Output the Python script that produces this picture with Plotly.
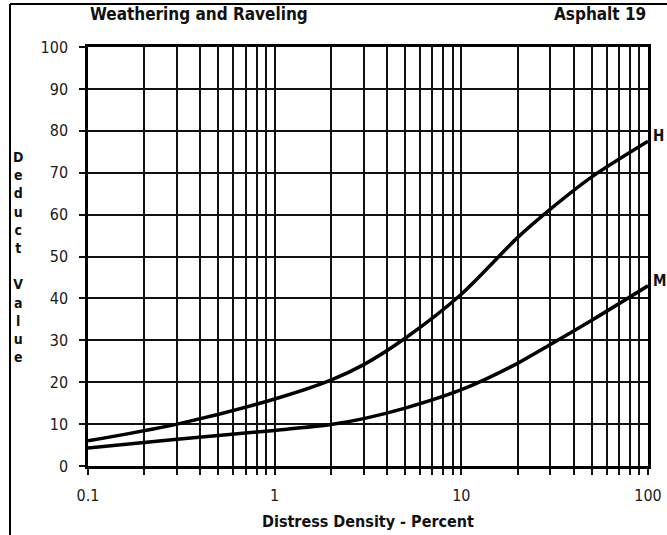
import plotly.graph_objects as go

# Deduct value curves: Weathering and Raveling (Asphalt 19)
density_h = [0.1, 0.3, 1, 2, 3, 5, 10, 20, 30, 50, 100]
deduct_h = [6.0, 10.0, 16.0, 20.5, 24.2, 30.5, 41.0, 54.5, 61.3, 69.0, 77.5]

density_m = [0.1, 0.3, 1, 2, 3, 5, 10, 20, 30, 50, 100]
deduct_m = [4.3, 6.4, 8.5, 9.9, 11.3, 13.8, 18.2, 24.5, 29.0, 34.8, 43.0]

curve_labels = ["H", "M"]

# log grid: every 1..9 in each decade, labels only at decades
decades = [0.1, 1, 10]
grid_x = [round(d * k, 3) for d in decades for k in range(1, 10)] + [100]
decade_text = {0.1: "0.1", 1: "1", 10: "10", 100: "100"}
grid_text = [decade_text.get(v, "") for v in grid_x]

y_ticks = list(range(0, 101, 10))

FONT = "Tahoma, 'DejaVu Sans Condensed', 'DejaVu Sans', sans-serif"

fig = go.Figure()
for xs, ys in [(density_h, deduct_h), (density_m, deduct_m)]:
    fig.add_trace(go.Scatter(x=xs, y=ys, mode="lines",
                             line=dict(color="black", width=3.5, shape="spline", smoothing=0.8),
                             showlegend=False, hoverinfo="skip"))

L, R, T, B = 88, 19, 47, 69
W, H = 667, 535
pw, ph = W - L - R, H - T - B

def px_to_paper_x(px):
    return (px - L) / pw

def px_to_paper_y(py):
    return (H - B - py) / ph

fig.update_layout(
    width=W, height=H,
    margin=dict(l=L, r=R, t=T, b=B, pad=0),
    paper_bgcolor="white", plot_bgcolor="white",
    font=dict(family=FONT, size=15, color="#1a1a1a"),
    xaxis=dict(
        type="log", range=[-1, 2], automargin=False,
        tickvals=grid_x, ticktext=grid_text,
        showgrid=True, gridcolor="#111", gridwidth=1.6,
        ticks="outside", ticklen=6, tickwidth=1.6, tickcolor="#111",
        showline=True, linecolor="black", linewidth=2.5, mirror=True,
        zeroline=False, ticklabelstandoff=7,
        tickfont=dict(size=16, family=FONT, color="#1a1a1a"),
    ),
    yaxis=dict(
        range=[0, 100], tickvals=y_ticks, automargin=False,
        showgrid=True, gridcolor="#111", gridwidth=1.6,
        ticks="outside", ticklen=6, tickwidth=1.6, tickcolor="#111",
        showline=True, linecolor="black", linewidth=2.5, mirror=True,
        zeroline=False, ticklabelstandoff=8,
        tickfont=dict(size=16, family=FONT, color="#1a1a1a"),
    ),
)

# outer frame (top and left edges)
fx = px_to_paper_x(10)
fy = px_to_paper_y(4)
fig.add_shape(type="line", xref="paper", yref="paper",
              x0=fx, x1=px_to_paper_x(667), y0=fy, y1=fy,
              line=dict(color="black", width=2))
fig.add_shape(type="line", xref="paper", yref="paper",
              x0=fx, x1=fx, y0=fy, y1=px_to_paper_y(540),
              line=dict(color="black", width=2))

# headings
fig.add_annotation(text="<b>Weathering and Raveling</b>", xref="paper", yref="paper",
                   x=0, y=px_to_paper_y(14), xanchor="left", yanchor="middle",
                   showarrow=False, font=dict(size=17, family=FONT, color="#111"))
fig.add_annotation(text="<b>Asphalt 19</b>", xref="paper", yref="paper",
                   x=1, y=px_to_paper_y(14), xanchor="right", yanchor="middle",
                   showarrow=False, font=dict(size=17, family=FONT, color="#111"))

# x-axis title
fig.add_annotation(text="<b>Distress Density - Percent</b>", xref="paper", yref="paper",
                   x=0.5, y=px_to_paper_y(521), xanchor="center", yanchor="middle",
                   showarrow=False, font=dict(size=16, family=FONT, color="#111"))

# vertical y-axis title, one letter per line
y_title = "Deduct Value"
fig.add_annotation(text="<b>" + "<br>".join(ch if ch != " " else "&nbsp;" for ch in y_title) + "</b>",
                   xref="paper", yref="paper",
                   x=px_to_paper_x(18), y=px_to_paper_y(257), xanchor="center", yanchor="middle",
                   showarrow=False, align="center",
                   font=dict(size=14, family=FONT, color="#111"))

# curve end labels
for name, yv in zip(curve_labels, [deduct_h[-1], deduct_m[-1]]):
    fig.add_annotation(text="<b>" + name + "</b>", xref="paper", yref="y",
                       x=px_to_paper_x(651), y=yv + 1.2, xanchor="left", yanchor="middle",
                       showarrow=False, font=dict(size=15, family=FONT, color="#111"))

fig.write_html("out.html")
